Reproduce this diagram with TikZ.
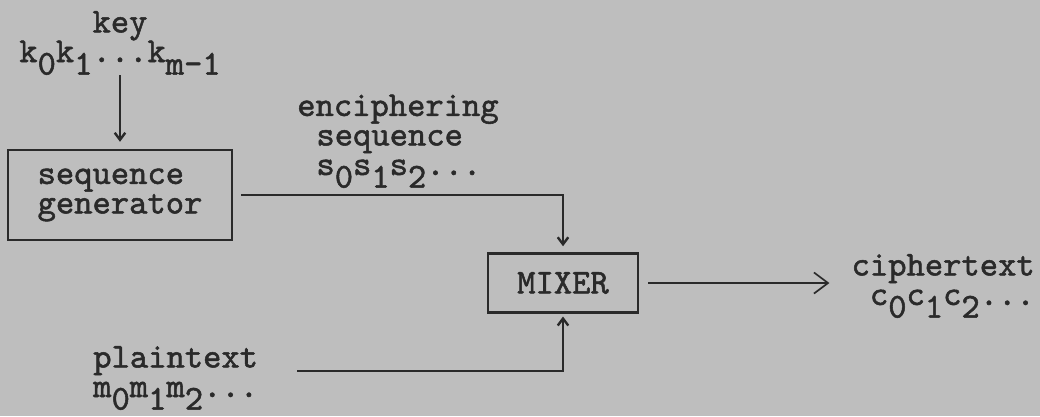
\documentclass[tikz,border=0pt]{standalone}
\usepackage{fontspec}
\newfontfamily\typew[FakeBold=1.5]{lmmono10-regular.otf}
\usetikzlibrary{arrows.meta, positioning}
\definecolor{paper}{HTML}{BEBEBE}
\definecolor{ink}{HTML}{2A2A2A}
\newcommand{\subd}[1]{\raisebox{-0.36em}{#1}}
\tikzset{
  txt/.style={font=\fontsize{24.8}{21}\selectfont\typew, text=ink, inner sep=0pt},
  blk/.style={txt, draw=ink, line width=1.7pt},
  wire/.style={draw=ink, line width=1.7pt},
  tip/.style={wire, -{Straight Barb[length=5pt,width=7.5pt]}},
}

\begin{document}
\begin{tikzpicture}[x=0.025cm, y=-0.025cm]
\fill[paper] (0,0) rectangle (1040,416);
\useasboundingbox (0,0) rectangle (1040,416);

% labels (base = last line)
\node[txt, align=center, anchor=base] (key) at (120,62) {key\\k\subd{0}k\subd{1}...k\subd{m-1}};
\node[txt, align=left, anchor=base west] (enc) at (297,175) {enciphering\\\hspace*{0.55em}sequence\\\hspace*{0.55em}s\subd{0}s\subd{1}s\subd{2}...};
\node[txt, align=right, anchor=base east] (cipher) at (1035,305) {ciphertext\\c\subd{0}c\subd{1}c\subd{2}...};
\node[txt, align=left, anchor=base west] (plain) at (93,397) {plaintext\\m\subd{0}m\subd{1}m\subd{2}...};

% boxes
\node[blk, minimum width=5.6cm, minimum height=2.25cm, align=left] (gen) at (120,195) {sequence\\generator};
\node[blk, minimum width=3.75cm, minimum height=1.475cm] (mixer) at (563,283) {MIXER};
\coordinate (pin) at (297,371);

\draw[tip, shorten >=5pt] (key.south) -- (gen.north);
\draw[tip, shorten <=5.7pt, shorten >=4.3pt] (gen.east) -| (mixer.north);
\draw[tip, shorten >=2pt] (pin) -| (mixer.south);
\draw[wire, -{Straight Barb[length=10pt,width=15pt,line width=1.2pt]}, shorten <=6.4pt, shorten >=15.6pt] (mixer.east) -- (mixer.east -| cipher.west);
\end{tikzpicture}
\end{document}
